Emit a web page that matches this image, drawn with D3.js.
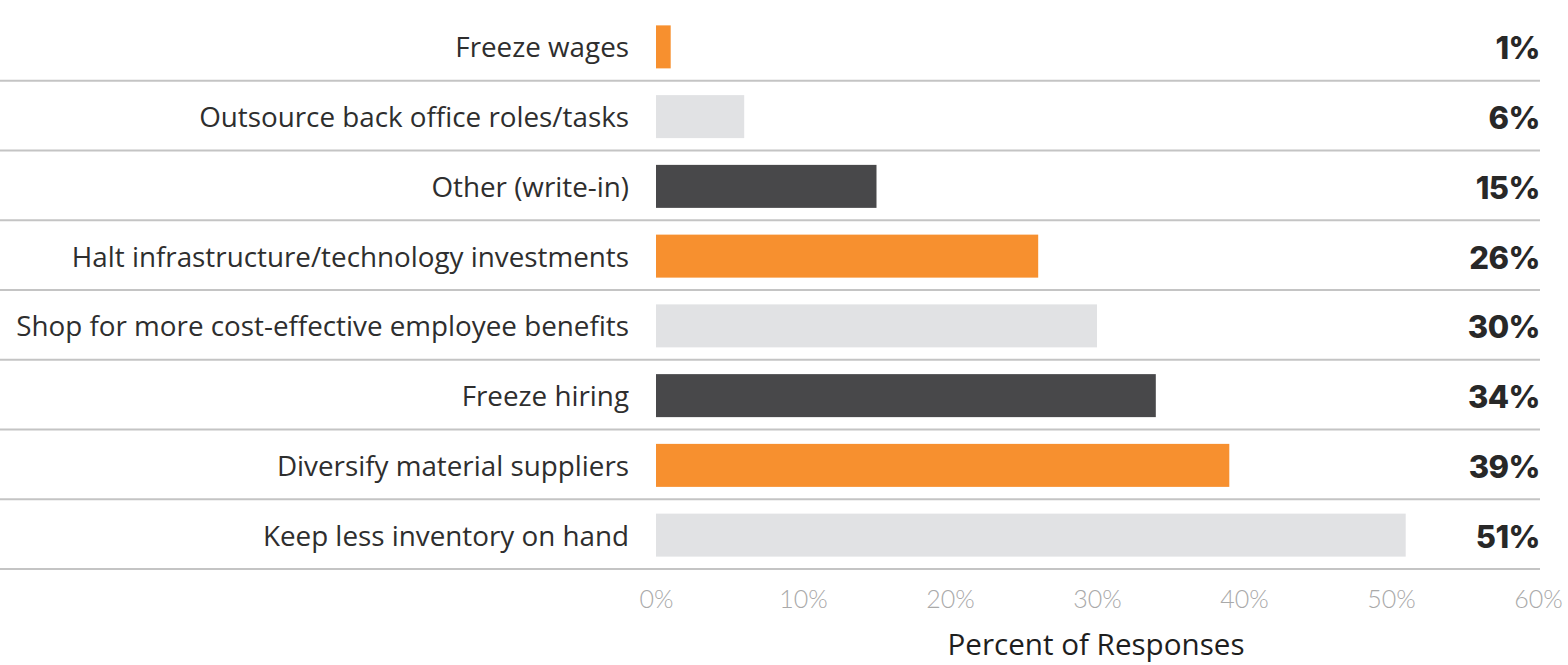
<!DOCTYPE html>
<html>
<head>
<meta charset="utf-8">
<title>Percent of Responses</title>
<script src="https://d3js.org/d3.v7.min.js"></script>
<style>
  body { margin:0; background:#fff; }
  svg { display:block; }
</style>
</head>
<body>
<div id="chart"></div>
<script>
// data
var categories = ["Freeze wages", "Outsource back office roles/tasks", "Other (write-in)",
  "Halt infrastructure/technology investments", "Shop for more cost-effective employee benefits",
  "Freeze hiring", "Diversify material suppliers", "Keep less inventory on hand"]
var values = [1, 6, 15, 26, 30, 34, 39, 51]
var tickValues = [0, 10, 20, 30, 40, 50, 60]
var barColors = ["#f7902f", "#e1e2e4", "#48484a"]

var width = 1568, height = 665

var svg = d3.select("#chart").append("svg")
  .attr("width", width).attr("height", height)

var x = d3.scaleLinear().domain([0, 60]).range([656, 1538])
var y = d3.scaleBand().domain(categories).range([10, 568]).paddingInner(0).paddingOuter(0)

var rows = svg.selectAll(".row").data(categories).enter().append("g").attr("class", "row")

// separator lines under each row
rows.append("line")
  .attr("x1", 0).attr("x2", 1540)
  .attr("y1", function(d) { return y(d) + y.bandwidth() + 1 })
  .attr("y2", function(d) { return y(d) + y.bandwidth() + 1 })
  .attr("stroke", "#c4c4c4").attr("stroke-width", 2)

var barH = 43
rows.append("rect")
  .attr("x", x(0))
  .attr("y", function(d) { return y(d) + y.bandwidth() / 2 - barH / 2 + 2 })
  .attr("width", function(d, i) { return x(values[i]) - x(0) })
  .attr("height", barH)
  .attr("fill", function(d, i) { return barColors[i % 3] })

rows.append("text")
  .attr("x", 629)
  .attr("y", function(d) { return y(d) + y.bandwidth() / 2 + 5 })
  .attr("text-anchor", "end").attr("dominant-baseline", "middle")
  .attr("font-family", "Open Sans").attr("font-size", 27.8).attr("fill", "#2e2e2e")
  .text(function(d) { return d })

rows.append("text")
  .attr("x", 1540)
  .attr("y", function(d) { return y(d) + y.bandwidth() / 2 + 6 })
  .attr("text-anchor", "end").attr("dominant-baseline", "middle")
  .attr("font-family", "Inter").attr("font-weight", 800).attr("font-size", 31)
  .attr("letter-spacing", -0.5).attr("fill", "#282828")
  .text(function(d, i) { return values[i] + "%" })

// x axis, ticks only as text
var axis = d3.axisBottom(x).tickValues(tickValues).tickSize(0).tickFormat(function(d) { return d + "%" })
var gx = svg.append("g").attr("transform", "translate(0,588)").call(axis)
gx.select(".domain").remove()
gx.selectAll("text")
  .attr("font-family", "Lato").attr("font-weight", 300).attr("font-size", 25)
  .attr("fill", "#a9a9a9").attr("dy", "0.68em")

svg.append("text")
  .attr("x", 1096).attr("y", 655)
  .attr("text-anchor", "middle")
  .attr("font-family", "Open Sans").attr("font-size", 29.6).attr("fill", "#1e1e1e")
  .text("Percent of Responses")
</script>
</body>
</html>
